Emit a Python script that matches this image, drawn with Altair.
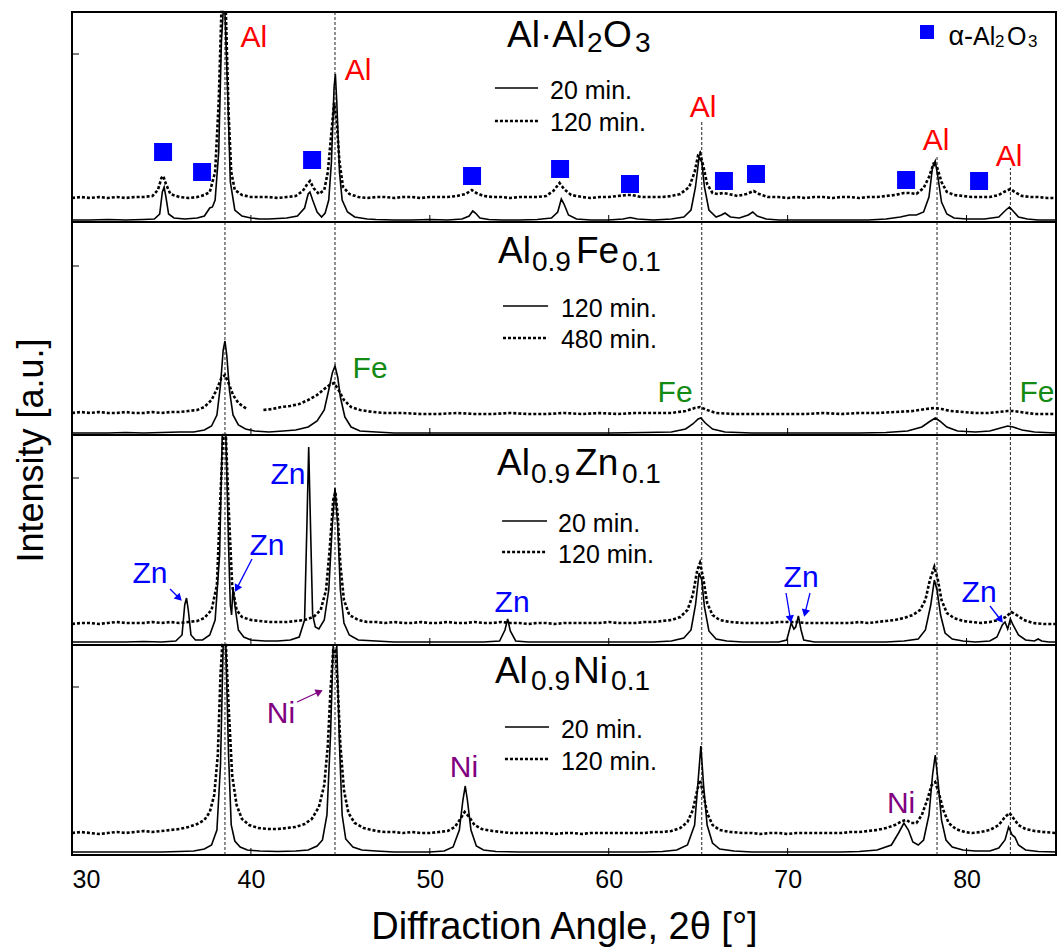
import math
import altair as alt
import pandas as pd

# ---------------- data (intensities read as heights above each panel's baseline) ----------------
x_tick_values = [30, 40, 50, 60, 70, 80]
panel_bottom = [633, 420, 210, 0]          # stacked offsets: Al2O3, Fe, Zn, Ni
panel_height = [210, 213, 210, 210]
y_tick_heights = [801, 589, 377, 168]
al_line_angles = [38.55, 44.7, 65.2, 78.35, 82.45]
al_line_tops = [843, 843, 733, 700, 687]

al2o3_20min = [(30,2),(31,2),(32,2.5),(33,2),(34,2.5),(34.6,3),(34.9,8),(35.05,30),(35.15,35),(35.25,25),(35.4,8),(35.7,4),(36.3,3),(37.0,4),(37.4,6),(37.7,14),(37.85,15),(38.0,22),(38.2,70),(38.35,180),(38.45,300),(38.55,300),(38.7,130),(38.85,40),(39.1,12),(39.5,6),(40,4),(40.5,3),(41,3),(42,4),(42.6,6),(43.0,14),(43.2,28),(43.3,30),(43.45,22),(43.7,10),(43.95,5),(44.15,9),(44.35,22),(44.5,60),(44.65,135),(44.72,148),(44.8,120),(44.95,50),(45.1,22),(45.4,10),(45.8,5),(46.5,3),(47,2.5),(48,2),(49,2),(50,2.5),(51,2),(51.8,3),(52.2,6),(52.4,11),(52.55,9),(52.8,4),(53.3,2.5),(54,2),(55,2),(56,2.5),(56.8,4),(57.15,10),(57.35,23),(57.5,18),(57.75,7),(58.2,3),(59,2),(60,2),(60.8,3),(61.2,4.5),(61.6,3),(62.5,2),(63.5,3),(64.2,5),(64.6,12),(64.85,35),(65.05,65),(65.2,60),(65.35,35),(65.6,12),(66.0,5),(66.3,7),(66.5,9),(66.8,5),(67.3,4),(67.8,7),(68.05,10),(68.3,6),(68.8,3),(69.5,2),(70.5,2),(71.5,2),(72.5,2),(73.5,2),(74.5,2),(75.5,3),(76.3,5),(76.8,7),(77.2,7),(77.6,10),(77.9,25),(78.1,55),(78.25,61),(78.4,45),(78.6,20),(78.9,8),(79.3,4),(80,3),(81,3),(81.8,5),(82.2,12),(82.4,15),(82.6,11),(82.9,5),(83.4,3),(84,2),(85,2)]
al2o3_120min = [(30,24),(30.5,25),(31,24),(31.5,25),(32,24),(32.5,25),(33,24),(33.5,25),(34,25),(34.5,26),(34.8,32),(35.0,44),(35.1,46),(35.25,38),(35.5,28),(36,25),(36.5,24),(37,25),(37.4,27),(37.7,30),(38.0,50),(38.2,120),(38.35,300),(38.6,300),(38.75,110),(38.9,50),(39.1,32),(39.5,27),(40,25),(40.5,25),(41,25),(41.5,24),(42,25),(42.5,26),(42.9,31),(43.15,38),(43.3,41),(43.5,34),(43.8,28),(44.1,32),(44.3,50),(44.5,90),(44.65,119),(44.8,100),(44.95,60),(45.15,35),(45.5,28),(46,25),(46.5,24),(47,25),(47.5,25),(48,24),(48.5,25),(49,25),(49.5,24),(50,25),(50.5,25),(51,25),(51.5,26),(52,28),(52.35,32),(52.6,29),(53,26),(53.5,25),(54,25),(54.5,24),(55,25),(55.5,25),(56,25),(56.5,26),(56.9,31),(57.25,39),(57.5,33),(57.9,27),(58.5,25),(59,24),(59.5,25),(60,25),(60.5,26),(61,27),(61.3,27),(61.8,25),(62.5,25),(63,25),(63.5,26),(64,28),(64.5,35),(64.8,50),(65.0,67),(65.1,69),(65.3,55),(65.5,38),(65.8,29),(66.1,28),(66.4,29),(66.7,28),(67.2,26),(67.7,28),(68.1,31),(68.4,28),(68.9,25),(69.5,25),(70,24),(70.5,25),(71,24),(71.5,25),(72,25),(72.5,24),(73,25),(73.5,25),(74,24),(74.5,25),(75,25),(75.5,26),(76,27),(76.5,29),(76.8,29),(77.2,28),(77.6,34),(77.9,45),(78.15,58),(78.35,55),(78.6,40),(78.9,30),(79.3,27),(79.8,26),(80.3,25),(80.8,25),(81.3,25),(81.8,27),(82.2,31),(82.45,33),(82.7,30),(83.1,26),(83.6,25),(84,25),(84.5,24),(85,24)]

fe_120min = [(30,2),(31,2),(32,2),(33,2.5),(34,2),(35,2.5),(36,3),(36.8,3),(37.4,5),(37.8,9),(38.1,20),(38.3,50),(38.45,85),(38.55,94),(38.65,80),(38.8,45),(39.0,20),(39.3,10),(39.7,6),(40.2,4),(41,3),(41.8,4),(42.5,5),(43.2,8),(43.7,14),(44.1,25),(44.35,45),(44.55,62),(44.7,69),(44.85,58),(45.0,38),(45.25,18),(45.6,8),(46.1,4),(47,3),(48,2),(50,2),(52,2),(54,2),(56,2),(58,2),(60,2),(62,2.5),(63.5,3),(64.3,6),(64.7,11),(65.0,16),(65.15,17),(65.4,12),(65.8,6),(66.5,3),(68,2),(70,2),(72,2),(74,2),(75.5,2.5),(76.7,4),(77.5,8),(77.9,13),(78.25,17),(78.5,14),(78.9,8),(79.5,4),(80.5,3),(81.3,4),(81.9,7),(82.3,9),(82.6,8),(83.1,5),(83.8,3),(85,2)]
fe_480min_a = [(30,22),(30.5,23),(31,22),(31.5,23),(32,22),(32.5,22),(33,23),(33.5,22),(34,22),(34.5,23),(35,22),(35.5,23),(36,23),(36.5,24),(37,25),(37.4,28),(37.8,35),(38.1,46),(38.35,57),(38.55,60),(38.75,52),(39.0,40),(39.3,32),(39.6,28),(39.8,26)]
fe_480min_b = [(40.7,25),(41.2,26),(41.7,28),(42.2,29),(42.7,31),(43.2,35),(43.7,40),(44.1,46),(44.4,50),(44.65,52),(44.9,45),(45.2,35),(45.6,28),(46.1,25),(46.8,23),(47.5,22),(48.5,22),(49.5,21),(50.5,21),(51.5,22),(52.5,21),(53.5,21),(54.5,22),(55.5,21),(56.5,21),(57.5,22),(58.5,21),(59.5,22),(60.5,21),(61.5,22),(62.5,22),(63.5,22),(64.3,24),(64.8,27),(65.1,28),(65.5,25),(66,22),(67,21),(68,21),(69,21),(70,21),(71,21),(72,22),(73,21),(74,22),(75,22),(76,23),(77,24),(77.7,26),(78.2,27),(78.6,26),(79.1,24),(79.8,23),(80.5,22),(81.2,22),(81.8,23),(82.3,24),(82.6,24),(83,23),(83.8,21),(85,21)]

zn_20min = [(30,3),(31,3),(32,3),(33,3),(34,3.5),(35,3),(35.8,4),(36.15,10),(36.3,40),(36.4,47),(36.5,35),(36.65,10),(36.9,5),(37.3,5),(37.7,10),(38.0,25),(38.25,90),(38.4,300),(38.6,300),(38.75,100),(38.85,40),(38.92,30),(39.0,58),(39.1,40),(39.3,15),(39.6,8),(40.0,5),(40.8,4),(41.5,4),(42.2,5),(42.7,8),(43.0,25),(43.13,120),(43.23,198),(43.33,120),(43.45,30),(43.6,18),(43.8,16),(44.1,25),(44.35,55),(44.55,120),(44.7,157),(44.85,120),(45.0,55),(45.2,22),(45.5,10),(46,5),(47,4),(48,3),(49,3),(50,3),(51,3),(52,3),(53,3),(53.9,4),(54.2,15),(54.35,26),(54.5,14),(54.8,4),(55.5,3),(56.5,3),(57.5,3),(58.5,3),(59.5,3),(60.5,3),(61.5,3),(62.5,3),(63.5,4),(64.2,7),(64.6,15),(64.85,40),(65.05,72),(65.2,65),(65.35,38),(65.6,14),(66,6),(66.6,4),(67.5,3),(68.5,3),(69.5,3),(69.95,5),(70.1,15),(70.2,22),(70.35,16),(70.45,18),(70.6,29),(70.75,15),(70.9,5),(71.5,3),(72.5,3),(73.5,3),(74.5,3),(75.5,3),(76.5,4),(77.3,6),(77.7,15),(78.0,40),(78.2,65),(78.35,55),(78.55,30),(78.8,12),(79.2,6),(79.8,4),(80.5,3),(81.3,4),(81.7,8),(82.0,20),(82.15,23),(82.3,16),(82.45,26),(82.6,20),(82.9,10),(83.3,5),(83.8,4),(84.0,6),(84.2,4),(84.6,3),(85,3)]
zn_120min = [(30,21),(30.5,22),(31,22),(31.5,21),(32,22),(32.5,23),(33,22),(33.5,22),(34,22),(34.5,23),(35,22),(35.5,23),(36,22),(36.5,23),(37,24),(37.4,27),(37.8,35),(38.1,60),(38.3,150),(38.45,300),(38.6,300),(38.75,140),(38.95,60),(39.2,35),(39.5,28),(40,25),(40.5,24),(41,23),(41.5,23),(42,23),(42.5,24),(43,25),(43.5,28),(43.9,35),(44.2,55),(44.4,95),(44.6,145),(44.72,153),(44.85,130),(45.0,80),(45.2,45),(45.5,30),(46,25),(46.5,23),(47,23),(47.5,22),(48,23),(48.5,22),(49,22),(49.5,23),(50,22),(50.5,22),(51,23),(51.5,22),(52,22),(52.5,23),(53,22),(53.5,22),(54,23),(54.5,22),(55,22),(55.5,21),(56,22),(56.5,22),(57,21),(57.5,22),(58,22),(58.5,22),(59,22),(59.5,22),(60,23),(60.5,22),(61,22),(61.5,22),(62,23),(62.5,23),(63,24),(63.5,25),(64,28),(64.4,35),(64.7,50),(64.95,75),(65.1,82),(65.3,65),(65.5,42),(65.8,30),(66.2,25),(66.8,23),(67.5,22),(68,22),(68.5,22),(69,22),(69.5,23),(70,23),(70.5,23),(71,22),(71.5,22),(72,22),(72.5,22),(73,22),(73.5,22),(74,23),(74.5,22),(75,23),(75.5,24),(76,25),(76.5,27),(77,30),(77.4,35),(77.7,45),(77.95,65),(78.2,78),(78.4,65),(78.6,45),(78.9,32),(79.3,27),(79.8,24),(80.3,23),(80.8,22),(81.3,23),(81.8,25),(82.2,28),(82.5,33),(82.8,30),(83.2,25),(83.7,22),(84.3,21),(85,21)]

ni_20min = [(30,3),(31,3),(32,3),(33,3),(34,3),(35,3),(36,3.5),(36.8,4),(37.4,6),(37.8,10),(38.1,25),(38.3,90),(38.45,300),(38.6,300),(38.75,100),(38.9,30),(39.1,14),(39.4,8),(39.8,5),(40.5,4),(41.5,3.5),(42.5,4),(43.2,5),(43.7,9),(44.0,15),(44.25,40),(44.45,120),(44.6,300),(44.8,300),(44.95,110),(45.1,40),(45.3,16),(45.7,8),(46.2,5),(47,4),(48,3),(49,3),(50,3),(50.8,4),(51.3,8),(51.65,25),(51.85,55),(51.98,69),(52.1,55),(52.3,25),(52.6,9),(53,5),(53.7,3.5),(55,3),(56,3),(57,3),(58,3),(59,3),(60,3),(61,3),(62,3),(63,3.5),(63.8,5),(64.4,10),(64.8,30),(65.0,75),(65.15,109),(65.3,70),(65.5,30),(65.8,12),(66.2,6),(67,4),(68,3),(69,3),(70,3),(71,3),(72,3),(73,3),(74,3.5),(75,5),(75.8,10),(76.2,22),(76.5,32),(76.75,25),(77.0,13),(77.3,10),(77.6,15),(77.9,40),(78.1,80),(78.25,100),(78.4,75),(78.6,35),(78.85,15),(79.2,8),(79.8,5),(80.5,4),(81.3,4),(81.8,7),(82.15,15),(82.35,28),(82.55,20),(82.7,18),(82.9,10),(83.3,5),(84,3.5),(85,3)]
ni_120min = [(30,22),(30.5,23),(31,22),(31.5,21),(32,22),(32.5,23),(33,22),(33.5,23),(34,24),(34.5,23),(35,24),(35.5,25),(36,26),(36.5,28),(37,31),(37.4,35),(37.7,43),(37.95,60),(38.15,100),(38.3,180),(38.4,300),(38.6,300),(38.75,150),(38.95,80),(39.2,50),(39.5,36),(39.9,30),(40.4,27),(41,26),(41.5,26),(42,27),(42.5,28),(43,31),(43.4,36),(43.8,48),(44.1,70),(44.3,110),(44.45,165),(44.6,205),(44.72,205),(44.85,170),(45.0,110),(45.2,65),(45.45,42),(45.8,32),(46.3,27),(47,24),(47.5,23),(48,23),(48.5,22),(49,23),(49.5,22),(50,22),(50.5,23),(51,24),(51.4,28),(51.7,36),(51.95,43),(52.2,38),(52.5,30),(52.9,26),(53.5,24),(54,23),(54.5,22),(55,22),(55.5,22),(56,22),(56.5,22),(57,21),(57.5,22),(58,22),(58.5,21),(59,22),(59.5,22),(60,22),(60.5,22),(61,22),(61.5,22),(62,22),(62.5,23),(63,23),(63.5,24),(64,27),(64.4,33),(64.7,45),(64.95,65),(65.1,75),(65.3,60),(65.5,42),(65.8,30),(66.2,25),(66.8,23),(67.5,22),(68,22),(68.5,21),(69,22),(69.5,22),(70,21),(70.5,22),(71,22),(71.5,22),(72,22),(72.5,22),(73,22),(73.5,23),(74,23),(74.5,24),(75,25),(75.5,27),(76,30),(76.4,34),(76.65,35),(76.9,32),(77.2,32),(77.5,40),(77.8,55),(78.05,70),(78.25,73),(78.45,62),(78.7,45),(79.0,32),(79.4,26),(79.9,23),(80.3,22),(80.8,23),(81.3,25),(81.8,30),(82.15,38),(82.4,42),(82.65,36),(82.9,30),(83.3,26),(83.8,24),(84.3,23),(85,22)]

# alpha-Al2O3 markers (panel 1)
alumina_x = [35.09, 37.27, 43.42, 52.36, 57.28, 61.19, 66.44, 68.23, 76.62, 80.70]
alumina_h = [70, 50, 62, 46, 53, 38, 41, 48, 42, 41]

# phase labels: (angle, height)
al_labels = [(40.17, 175), (45.99, 142), (65.27, 105), (78.30, 72), (82.38, 56)]
fe_labels = [(46.66, 57), (63.71, 33), (83.94, 33)]
zn_labels = [(34.36, 62), (40.90, 90), (42.07, 161), (54.60, 33), (70.75, 58), (80.70, 43)]
ni_labels = [(41.68, 132), (51.91, 78), (76.34, 42)]
zn_arrows = [(35.48, 56, 36.15, 44), (40.06, 86, 39.11, 53), (69.91, 52, 70.19, 22),
             (71.25, 52, 70.92, 28), (81.31, 39, 82.04, 22)]
ni_arrows = [(42.58, 153, 44.03, 165)]

# panel titles: (text, angle, height, is_subscript)
titles = [
    [("Al·Al", 54.32, 175, 0), ("2", 58.79, 170, 1), ("O", 59.68, 175, 0), ("3", 61.47, 170, 1)],
    [("Al", 53.81, 172, 0), ("0.9", 55.71, 164, 1), ("Fe", 58.17, 172, 0), ("0.1", 60.74, 164, 1)],
    [("Al", 53.76, 170, 0), ("0.9", 55.66, 162, 1), ("Zn", 58.12, 170, 0), ("0.1", 60.74, 162, 1)],
    [("Al", 53.64, 172, 0), ("0.9", 55.66, 165, 1), ("Ni", 58.00, 172, 0), ("0.1", 60.13, 165, 1)],
]
# legends: x1, x2, y_solid, y_dashed, text_x, y_text1, y_text2, text1, text2
legends = [
    (53.64, 56.05, 134, 101, 56.72, 123, 91, "20 min.", "120 min."),
    (54.09, 56.61, 129, 97, 57.33, 118, 87, "120 min.", "480 min."),
    (54.04, 56.55, 124, 93, 57.17, 113, 82, "20 min.", "120 min."),
    (54.20, 56.66, 128, 96, 57.33, 117, 85, "20 min.", "120 min."),
]
alumina_key_square = (77.79, 190)
alumina_key_prefix = ("α-", 80.36, 177)
alumina_key_text = [("Al", 80.36, 177, 0), ("2", 81.59, 175, 1),
                    ("O", 82.26, 177, 0), ("3", 83.44, 175, 1)]

# ---------------- build tables ----------------
FONT = "Liberation Sans"
RED, GREEN, BLUE, PURPLE = "#FF0000", "#138A13", "#0000FF", "#800080"
X0, X1 = 30, 85
W, H = 984, 843
PXD = W / (X1 - X0)
MAIN_FS, SUB_FS = 37, 28

curves = [
    (0, "solid", al2o3_20min), (0, "dashed", al2o3_120min),
    (1, "solid", fe_120min), (1, "dashed", fe_480min_a), (1, "dashed", fe_480min_b),
    (2, "solid", zn_20min), (2, "dashed", zn_120min),
    (3, "solid", ni_20min), (3, "dashed", ni_120min),
]
rows = []
for cid, (p, style, pts) in enumerate(curves):
    for x, h in pts:
        rows.append({"x": x, "y": panel_bottom[p] + min(h, panel_height[p]),
                     "curve": f"c{cid}", "style": style})
curve_df = pd.DataFrame(rows)

xscale = alt.Scale(domain=[X0, X1], nice=False, zero=False)
yscale = alt.Scale(domain=[0, H], nice=False, zero=False)
xaxis = alt.Axis(values=x_tick_values, labelFontSize=25, labelFont=FONT, labelColor="black",
                 ticks=False, tickSize=0, domain=False, grid=False, labelPadding=12,
                 title="Diffraction Angle, 2θ [°]", titleFont=FONT, titleFontSize=38,
                 titleFontWeight="normal", titleColor="black", titleBaseline="alphabetic", titleY=83)
yaxis = alt.Axis(labels=False, ticks=False, domain=False, grid=False,
                 title="Intensity [a.u.]", titleFont=FONT, titleFontSize=36,
                 titleFontWeight="normal", titleColor="black", titleX=-30, titleY=438,
                 titleBaseline="alphabetic", titleAngle=270, titleAlign="center")
X = alt.X("x:Q", scale=xscale, axis=xaxis)
Y = alt.Y("y:Q", scale=yscale, axis=yaxis)

solid = alt.Chart(curve_df[curve_df["style"] == "solid"]).mark_line(
    color="black", strokeWidth=1.6).encode(x=X, y=Y, detail="curve:N")
dashed = alt.Chart(curve_df[curve_df["style"] == "dashed"]).mark_line(
    color="black", strokeWidth=2.6, strokeDash=[3, 2]).encode(x=X, y=Y, detail="curve:N")

vlines = pd.DataFrame({"x": al_line_angles, "y": [0] * len(al_line_angles), "y2": al_line_tops})
vline_layer = alt.Chart(vlines).mark_rule(color="#222222", strokeWidth=1, strokeDash=[3, 2]).encode(
    x=X, y=Y, y2="y2:Q")

sep = pd.DataFrame({"y": panel_bottom[:3], "x": [X0] * 3, "x2": [X1] * 3})
sep_layer = alt.Chart(sep).mark_rule(color="black", strokeWidth=2).encode(x=X, x2="x2:Q", y=Y)

xt = pd.DataFrame([{"x": t, "y": b, "y2": b + 7} for b in panel_bottom for t in x_tick_values[1:]])
xt_layer = alt.Chart(xt).mark_rule(color="black", strokeWidth=1).encode(x=X, y=Y, y2="y2:Q")
yt = pd.DataFrame({"y": y_tick_heights, "x": [X0] * 4, "x2": [X0 + 7 / PXD] * 4})
yt_layer = alt.Chart(yt).mark_rule(color="black", strokeWidth=1).encode(x=X, x2="x2:Q", y=Y)

sq = pd.DataFrame({"x": alumina_x, "y": [panel_bottom[0] + h for h in alumina_h]})
sq_layer = alt.Chart(sq).mark_square(size=324, color=BLUE, opacity=1).encode(x=X, y=Y)
key_sq = pd.DataFrame({"x": [alumina_key_square[0]], "y": [panel_bottom[0] + alumina_key_square[1]]})
key_sq_layer = alt.Chart(key_sq).mark_square(size=196, color=BLUE, opacity=1).encode(x=X, y=Y)

# texts
center_rows, left_rows, right_rows = [], [], []
for lab, color, p in [(al_labels, RED, 0), (fe_labels, GREEN, 1), (zn_labels, BLUE, 2), (ni_labels, PURPLE, 3)]:
    txt = {0: "Al", 1: "Fe", 2: "Zn", 3: "Ni"}[p]
    for x, h in lab:
        center_rows.append({"x": x, "y": panel_bottom[p] + h, "text": txt, "fs": 30, "color": color})
for p, segs in enumerate(titles):
    for t, x, h, sub in segs:
        left_rows.append({"x": x, "y": panel_bottom[p] + h, "text": t,
                          "fs": SUB_FS if sub else MAIN_FS, "color": "black"})
for t, x, h, sub in alumina_key_text:
    left_rows.append({"x": x, "y": panel_bottom[0] + h, "text": t, "fs": 17 if sub else 25, "color": "black"})
t, x, h = alumina_key_prefix
right_rows.append({"x": x, "y": panel_bottom[0] + h, "text": t, "fs": 27, "color": "black"})
leg_solid, leg_dash = [], []
for p, (x1, x2, ys, yd, tx, y1, y2, t1, t2) in enumerate(legends):
    b = panel_bottom[p]
    leg_solid.append({"x": x1, "x2": x2, "y": b + ys})
    leg_dash.append({"x": x1, "x2": x2, "y": b + yd})
    left_rows.append({"x": tx, "y": b + y1, "text": t1, "fs": 25, "color": "black"})
    left_rows.append({"x": tx, "y": b + y2, "text": t2, "fs": 25, "color": "black"})

def text_layer(rows_, align):
    return alt.Chart(pd.DataFrame(rows_)).mark_text(align=align, baseline="alphabetic", font=FONT).encode(
        x=X, y=Y, text="text:N", size=alt.Size("fs:Q", scale=None),
        color=alt.Color("color:N", scale=None))

leg_solid_layer = alt.Chart(pd.DataFrame(leg_solid)).mark_rule(color="black", strokeWidth=1.6).encode(
    x=X, x2="x2:Q", y=Y)
leg_dash_layer = alt.Chart(pd.DataFrame(leg_dash)).mark_rule(color="black", strokeWidth=2.6, strokeDash=[3, 2]).encode(
    x=X, x2="x2:Q", y=Y)

arrow_rows, head_rows = [], []
for arrows, color, p in [(zn_arrows, BLUE, 2), (ni_arrows, PURPLE, 3)]:
    b = panel_bottom[p]
    for x1, y1, x2, y2 in arrows:
        dxp, dyp = (x2 - x1) * PXD, (y2 - y1)
        L = math.hypot(dxp, dyp)
        ang = math.degrees(math.atan2(dxp, dyp)) % 360
        hx = x2 - (dxp / L) * 4 / PXD
        hy = y2 - (dyp / L) * 4
        ex = x2 - (dxp / L) * 6 / PXD
        ey = y2 - (dyp / L) * 6
        arrow_rows.append({"x": x1, "y": b + y1, "x2": ex, "y2": b + ey, "color": color})
        head_rows.append({"x": hx, "y": b + hy, "angle": ang, "color": color})
arrow_layer = alt.Chart(pd.DataFrame(arrow_rows)).mark_rule(strokeWidth=1.3).encode(
    x=X, y=Y, x2="x2:Q", y2="y2:Q", color=alt.Color("color:N", scale=None))
head_layer = alt.Chart(pd.DataFrame(head_rows)).mark_point(
    shape="triangle-up", filled=True, size=70, opacity=1).encode(
    x=X, y=Y, angle=alt.Angle("angle:Q", scale=None), color=alt.Color("color:N", scale=None))

chart = alt.layer(
    vline_layer, sep_layer, xt_layer, yt_layer, solid, dashed,
    sq_layer, key_sq_layer, leg_solid_layer, leg_dash_layer,
    arrow_layer, head_layer,
    text_layer(center_rows, "center"), text_layer(left_rows, "left"), text_layer(right_rows, "right"),
).properties(
    width=W, height=H,
    padding={"left": 72, "top": 12, "right": 1, "bottom": 92},
    autosize=alt.AutoSizeParams(type="none"),
).configure(font=FONT, background="white").configure_view(stroke="black", strokeWidth=2)

chart.save("out.html", embed_options={"renderer": "svg", "actions": False})
